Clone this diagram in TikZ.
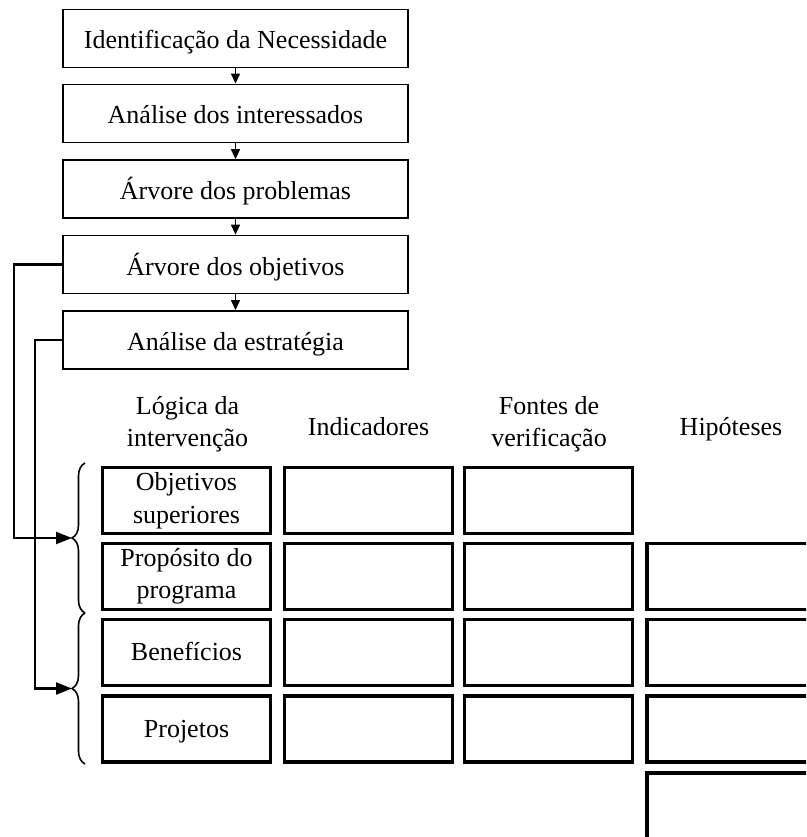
\documentclass[tikz,border=0pt]{standalone}
\usepackage{fontspec}
\setmainfont{Liberation Serif}
\usetikzlibrary{arrows.meta,decorations.pathreplacing}
\begin{document}
\begin{tikzpicture}[x=1pt,y=-1pt,
  txt/.style={font=\fontsize{26}{32.5}\selectfont},
  topbox/.style={txt,draw,line width=1.8pt,minimum width=345pt,minimum height=58pt,inner sep=0pt,text height=21pt,text depth=0pt},
  cell/.style={txt,draw,line width=3.3pt,minimum width=168pt,minimum height=66pt,inner sep=0pt,align=center},
  onecell/.style={cell,text height=16pt,text depth=0pt},
  head/.style={txt,align=center,inner sep=0pt},
  flow/.style={line width=1.6pt,-{Triangle[length=10pt,width=9pt]}},
  conn/.style={line width=2.2pt,-{Triangle[length=16pt,width=12pt]}},
  bracestyle/.style={line width=1.6pt,decorate,decoration={brace,amplitude=13pt}}]
\useasboundingbox (0,0) rectangle (806,837);
\clip (0,0) rectangle (806,837);

% top flow
\node[topbox] (b1) at (235.5,38.5) {Identificação da Necessidade};
\node[topbox] (b2) at (235.5,113.5) {Análise dos interessados};
\node[topbox] (b3) at (235.5,189) {Árvore dos problemas};
\node[topbox] (b4) at (235.5,264.5) {Árvore dos objetivos};
\node[topbox] (b5) at (235.5,340) {Análise da estratégia};
\draw[flow] (b1.south) -- (b2.north);
\draw[flow] (b2.south) -- (b3.north);
\draw[flow] (b3.south) -- (b4.north);
\draw[flow] (b4.south) -- (b5.north);

% headers
\node[head] (h1) at (187.5,424) {Lógica da\\intervenção};
\node[head,anchor=base] (h2) at (368.5,435) {Indicadores};
\node[head] (h3) at (549,424) {Fontes de\\verificação};
\node[head,anchor=base] (h4) at (731,435) {Hipóteses};

% grid
\node[cell] (r1c1) at (186.5,500.5) {Objetivos\\superiores};
\node[cell] (r1c2) at (368.5,500.5) {};
\node[cell] (r1c3) at (548.5,500.5) {};

\node[cell] (r2c1) at (186.5,576.5) {Propósito do\\programa};
\node[cell] (r2c2) at (368.5,576.5) {};
\node[cell] (r2c3) at (548.5,576.5) {};
\node[cell] (r2c4) at (731,576.5) {};

\node[onecell] (r3c1) at (186.5,652.5) {Benefícios};
\node[cell] (r3c2) at (368.5,652.5) {};
\node[cell] (r3c3) at (548.5,652.5) {};
\node[cell] (r3c4) at (731,652.5) {};

\node[onecell] (r4c1) at (186.5,729) {Projetos};
\node[cell] (r4c2) at (368.5,729) {};
\node[cell] (r4c3) at (548.5,729) {};
\node[cell] (r4c4) at (731,729) {};

\node[cell] (r5c4) at (731,806) {};

% braces
\coordinate (br1b) at (85,613);
\coordinate (br1t) at (85,463);
\coordinate (br2b) at (85,764);
\coordinate (br2t) at (85,613);
\draw[bracestyle] (br1b) -- (br1t);
\draw[bracestyle] (br2b) -- (br2t);
\coordinate (tip1) at (72,538);
\coordinate (tip2) at (72,688.5);

% left connectors
\coordinate (k1) at (14,538);
\coordinate (k2) at (35,688.5);
\draw[conn] (b4.west) -| (k1) -- (tip1);
\draw[conn] (b5.west) -| (k2) -- (tip2);
\end{tikzpicture}
\end{document}
